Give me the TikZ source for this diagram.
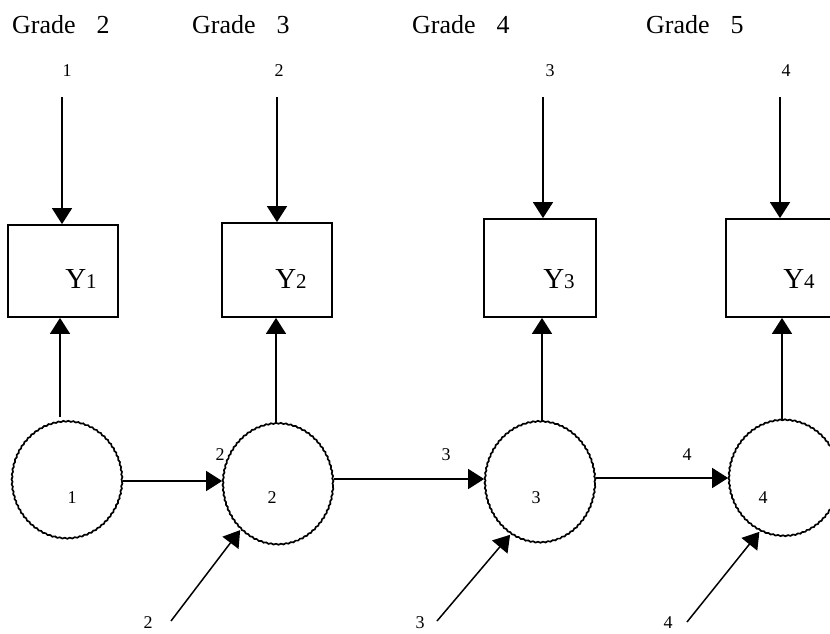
\documentclass[tikz,border=0pt]{standalone}
\usepackage{fontspec}
\setmainfont{Liberation Serif}
\usetikzlibrary{arrows.meta,shapes.geometric,decorations.pathmorphing}
\begin{document}
\begin{tikzpicture}[x=1pt,y=-1pt,
  arr/.style={line width=1.5pt,-{Triangle[length=16pt,width=20pt]}},
  obs/.style={draw,line width=1.8pt,rectangle,minimum width=110pt,inner sep=0pt},
  lat/.style={draw,line width=1.7pt,ellipse,inner sep=0pt,minimum width=110pt,
    decorate,decoration={snake,segment length=5pt,amplitude=0.5pt}},
  grade/.style={font=\fontsize{26}{28}\selectfont,anchor=base west,inner sep=0pt},
  yl/.style={font=\fontsize{29}{32}\selectfont,inner sep=0pt},
  num/.style={font=\fontsize{18}{20}\selectfont,inner sep=0pt}]
\useasboundingbox (0,0) rectangle (830,633);
\clip (0,0) rectangle (830,633);
% grade labels
\node[grade] (g2) at (12,33) {Grade\hspace{0.8em}2};
\node[grade] (g3) at (192,33) {Grade\hspace{0.8em}3};
\node[grade] (g4) at (412,33) {Grade\hspace{0.8em}4};
\node[grade] (g5) at (646,33) {Grade\hspace{0.8em}5};
% top numbers
\node[num] (n1) at (67,71) {1};
\node[num] (n2) at (279,71) {2};
\node[num] (n3) at (550,71) {3};
\node[num] (n4) at (786,71) {4};
% boxes
\node[obs,minimum height=92pt] (b1) at (63,271) {};
\node[obs,minimum height=94pt] (b2) at (277,270) {};
\node[obs,minimum width=112pt,minimum height=98pt] (b3) at (540,268) {};
\node[obs,minimum height=98pt] (b4) at (781,268) {};
\node[yl] (y1) at (81,279) {Y{\fontsize{21}{22}\selectfont 1}};
\node[yl] (y2) at (291,279) {Y{\fontsize{21}{22}\selectfont 2}};
\node[yl] (y3) at (559,279) {Y{\fontsize{21}{22}\selectfont 3}};
\node[yl] (y4) at (799,279) {Y{\fontsize{21}{22}\selectfont 4}};
% circles
\node[lat,minimum height=117pt] (c1) at (67,481) {};
\node[lat,minimum height=121pt] (c2) at (278,485) {};
\node[lat,minimum height=121pt] (c3) at (540,483) {};
\node[lat,minimum height=116pt] (c4) at (784,479) {};
\node[num] (k1) at (72,498) {1};
\node[num] (k2) at (272,498) {2};
\node[num] (k3) at (536,498) {3};
\node[num] (k4) at (763,498) {4};
% edge labels
\node[num] (e2) at (220,455) {2};
\node[num] (e3) at (446,455) {3};
\node[num] (e4) at (687,455) {4};
% bottom labels
\node[num] (d2l) at (148,623) {2};
\node[num] (d3l) at (420,623) {3};
\node[num] (d4l) at (668,623) {4};
% coordinates
\coordinate (t1) at (62,97);
\coordinate (t2) at (277,97);
\coordinate (t3) at (543,97);
\coordinate (t4) at (780,97);
\coordinate (s1) at (60,417);
\coordinate (s2) at (276,424);
\coordinate (s3) at (542,422);
\coordinate (s4) at (782,421);
\coordinate (d2) at (171,621);
\coordinate (d3) at (437,621);
\coordinate (d4) at (687,622);
% arrows
\draw[arr] (t1) -- (t1 |- b1.north);
\draw[arr] (t2) -- (t2 |- b2.north);
\draw[arr] (t3) -- (t3 |- b3.north);
\draw[arr] (t4) -- (t4 |- b4.north);
\draw[arr] (s1) -- (s1 |- b1.south);
\draw[arr] (s2) -- (s2 |- b2.south);
\draw[arr] (s3) -- (s3 |- b3.south);
\draw[arr] (s4) -- (s4 |- b4.south);
\draw[arr] (c1.east) -- (c1.east -| c2.west);
\draw[arr] (c2.east) ++(0,-6) coordinate (h2) (h2) -- (h2 -| c3.west);
\draw[arr] (c3.east) ++(0,-5) coordinate (h3) (h3) -- (h3 -| c4.west);
\draw[arr] (d2) -- (c2.230);
\draw[arr] (d3) -- (c3.240);
\draw[arr] (d4) -- (c4.245);
\end{tikzpicture}
\end{document}
